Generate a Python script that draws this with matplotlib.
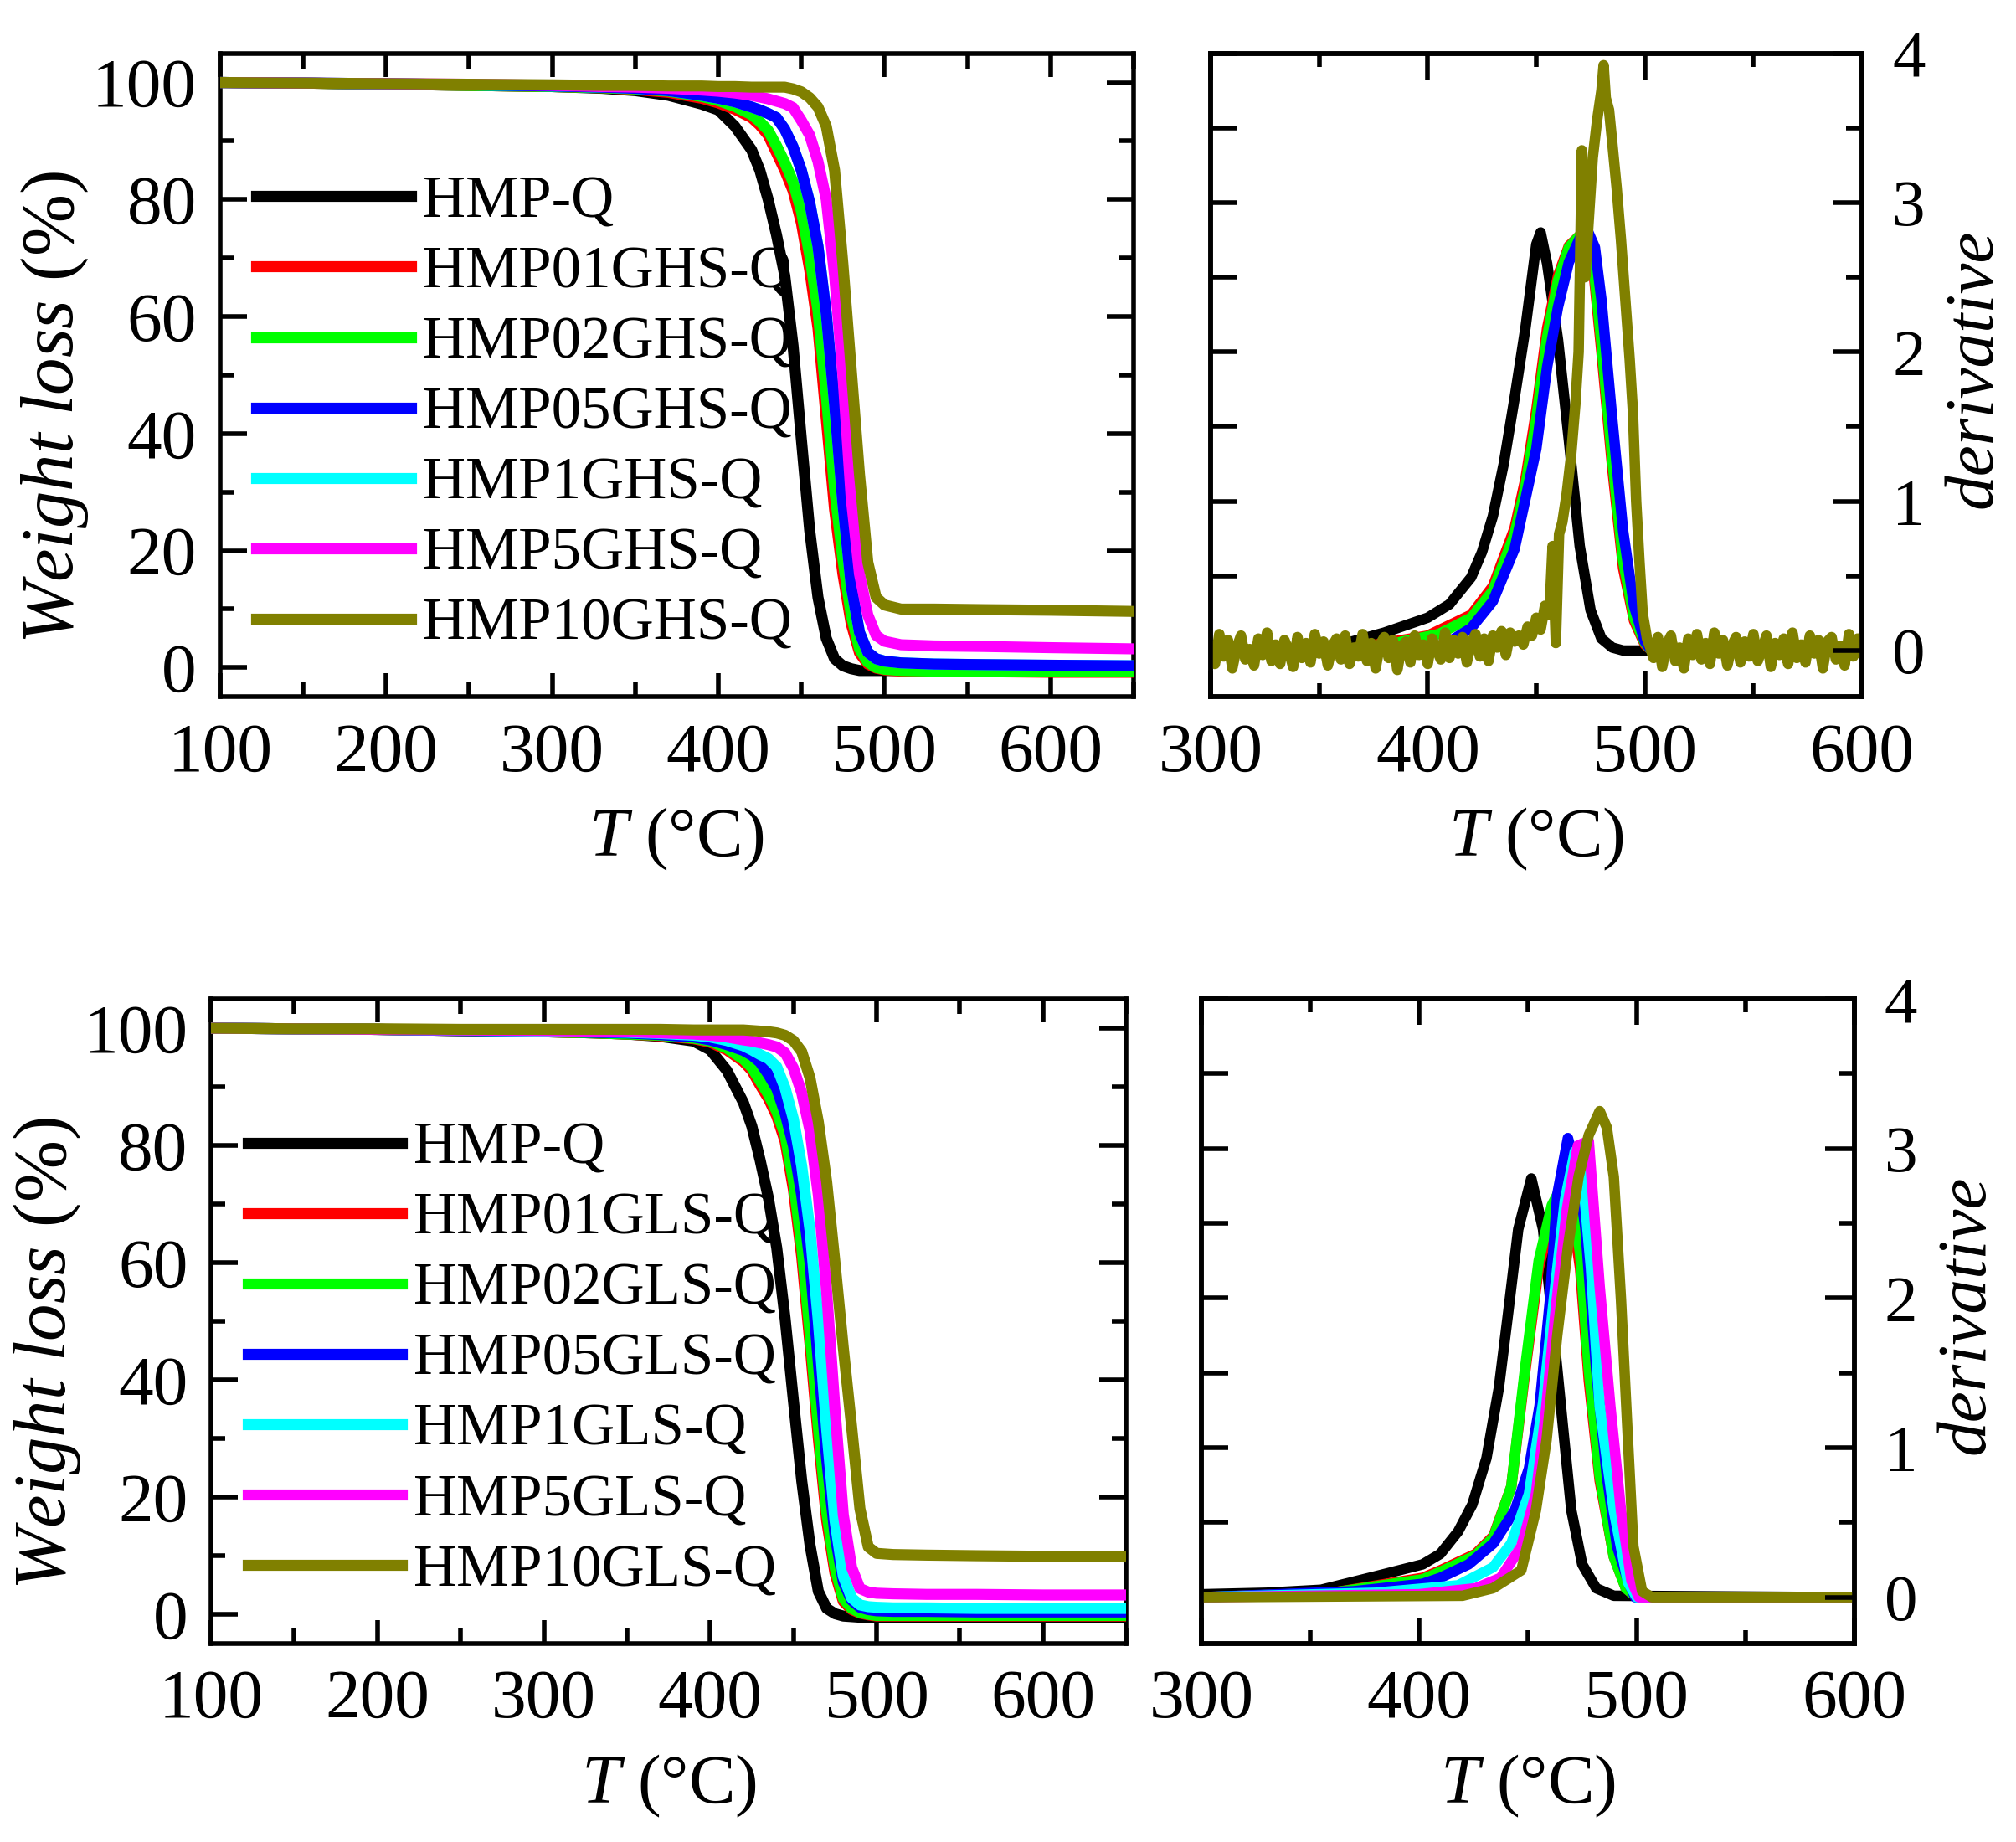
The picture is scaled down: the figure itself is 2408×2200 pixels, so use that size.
import numpy as np
import matplotlib
matplotlib.use('Agg')
import matplotlib.pyplot as plt
from matplotlib.ticker import MultipleLocator

plt.rcParams['font.family'] = ['Liberation Serif', 'DejaVu Serif']
plt.rcParams['mathtext.fontset'] = 'custom'
plt.rcParams['mathtext.rm'] = 'Liberation Serif'
plt.rcParams['mathtext.it'] = 'Liberation Serif:italic'

colors = ['#000000', '#ff0000', '#00ff00', '#0000ff', '#00ffff', '#ff00ff', '#808000']
ghs_labels = ['HMP-Q', 'HMP01GHS-Q', 'HMP02GHS-Q', 'HMP05GHS-Q', 'HMP1GHS-Q', 'HMP5GHS-Q', 'HMP10GHS-Q']
gls_labels = ['HMP-Q', 'HMP01GLS-Q', 'HMP02GLS-Q', 'HMP05GLS-Q', 'HMP1GLS-Q', 'HMP5GLS-Q', 'HMP10GLS-Q']

# TGA temperature grid (degC)
tga_T = [100, 150, 200, 250, 300, 330, 350, 370, 390, 400, 410, 420, 425, 430, 435, 440, 445,
         450, 455, 460, 465, 470, 475, 480, 485, 490, 495, 500, 510, 530, 560, 600, 650]

# weight loss (%) - GHS series
ghs_q = [100, 99.9, 99.7, 99.5, 99.3, 99.0, 98.6, 97.8, 96.3, 95.3, 92.5, 88.5, 85.0, 80.0, 74.0, 67.0, 55.0,
         39.0, 23.5, 12.0, 5.0, 1.5, 0.3, -0.2, -0.5, -0.5, -0.5, -0.5, -0.5, -0.6, -0.6, -0.6, -0.7]
ghs01 = [100, 99.9, 99.7, 99.5, 99.3, 99.1, 98.8, 98.3, 97.3, 96.5, 95.4, 94.0, 92.7, 91.0, 88.0, 85.0, 81.5,
         76.0, 68.0, 58.0, 42.5, 27.0, 16.0, 7.5, 2.5, 0.6, -0.1, -0.4, -0.6, -0.7, -0.7, -0.8, -0.8]
ghs02 = [100, 99.9, 99.7, 99.5, 99.3, 99.1, 98.9, 98.5, 97.6, 96.9, 95.9, 94.5, 93.3, 91.8, 89.2, 86.3, 83.0,
         78.0, 70.5, 61.0, 46.5, 30.5, 18.5, 9.0, 3.2, 0.9, 0.0, -0.3, -0.5, -0.6, -0.6, -0.7, -0.7]
ghs05 = [100, 99.9, 99.8, 99.6, 99.4, 99.2, 99.0, 98.6, 97.8, 97.3, 96.7, 95.8, 95.3, 94.7, 94.0, 92.0, 89.0,
         85.0, 79.5, 72.0, 60.5, 45.0, 28.0, 14.0, 6.0, 2.6, 1.5, 1.1, 0.8, 0.6, 0.5, 0.4, 0.3]
ghs1 = [100, 99.9, 99.8, 99.6, 99.4, 99.2, 99.0, 98.6, 97.8, 97.3, 96.7, 95.8, 95.3, 94.7, 94.0, 92.0, 89.0,
        85.0, 79.5, 72.0, 60.5, 45.0, 28.0, 14.0, 6.0, 2.6, 1.5, 1.1, 0.8, 0.6, 0.5, 0.4, 0.3]
ghs5 = [100, 99.9, 99.8, 99.7, 99.5, 99.3, 99.2, 99.0, 98.7, 98.5, 98.2, 97.8, 97.5, 97.2, 96.8, 96.4, 95.7,
        93.5, 91.0, 86.5, 80.0, 67.0, 50.0, 29.0, 16.0, 9.0, 5.5, 4.5, 3.9, 3.7, 3.6, 3.4, 3.2]
ghs10 = [100, 99.9, 99.8, 99.7, 99.6, 99.5, 99.5, 99.4, 99.4, 99.3, 99.3, 99.2, 99.2, 99.2, 99.2, 99.2, 98.9,
         98.4, 97.4, 95.8, 92.5, 85.0, 69.0, 51.0, 33.0, 18.0, 12.0, 10.7, 10.0, 10.0, 9.9, 9.8, 9.6]

# weight loss (%) - GLS series
gls_q = [100, 99.9, 99.8, 99.6, 99.4, 99.2, 99.0, 98.6, 97.8, 96.3, 92.8, 87.3, 83.3, 77.5, 71.0, 62.5, 50.5,
         36.5, 22.8, 11.8, 3.9, 1.0, 0.1, -0.3, -0.4, -0.5, -0.5, -0.5, -0.5, -0.5, -0.5, -0.5, -0.5]
gls01 = [100, 99.9, 99.8, 99.6, 99.4, 99.2, 99.0, 98.7, 98.2, 97.6, 96.3, 94.3, 92.8, 90.3, 88.0, 85.0, 80.7,
         72.5, 61.0, 46.0, 30.0, 16.0, 7.0, 2.2, 0.8, 0.2, -0.1, -0.3, -0.3, -0.3, -0.3, -0.3, -0.3]
gls02 = [100, 99.9, 99.8, 99.6, 99.4, 99.2, 99.0, 98.8, 98.3, 97.8, 96.6, 94.7, 93.3, 91.0, 88.7, 85.8, 81.8,
         74.0, 62.8, 48.0, 32.0, 17.5, 8.0, 2.7, 1.0, 0.3, 0.0, -0.2, -0.2, -0.2, -0.2, -0.2, -0.2]
gls05 = [100, 99.9, 99.8, 99.6, 99.5, 99.3, 99.2, 98.9, 98.5, 98.0, 97.2, 96.2, 95.4, 94.2, 92.1, 89.7, 85.5,
         80.0, 71.5, 60.0, 43.0, 26.5, 13.5, 5.5, 2.4, 1.2, 0.8, 0.6, 0.5, 0.5, 0.4, 0.4, 0.4]
gls1 = [100, 99.9, 99.8, 99.7, 99.5, 99.4, 99.3, 99.1, 98.8, 98.5, 97.9, 97.0, 96.3, 95.5, 94.8, 93.4, 89.8,
        84.5, 76.5, 65.5, 50.0, 31.6, 16.0, 6.5, 2.8, 1.6, 1.3, 1.2, 1.1, 1.1, 1.0, 1.0, 1.0]
gls5 = [100, 99.9, 99.8, 99.7, 99.6, 99.5, 99.4, 99.2, 99.0, 98.8, 98.5, 98.0, 97.8, 97.5, 97.2, 96.8, 95.8,
        93.2, 89.0, 82.5, 71.5, 55.0, 35.0, 17.0, 8.0, 4.4, 3.8, 3.6, 3.5, 3.4, 3.4, 3.3, 3.3]
gls10 = [100, 99.9, 99.9, 99.8, 99.8, 99.8, 99.8, 99.8, 99.7, 99.7, 99.7, 99.7, 99.6, 99.5, 99.4, 99.2, 98.8,
         97.9, 96.0, 91.5, 84.0, 73.8, 60.0, 45.5, 32.0, 18.0, 11.5, 10.4, 10.2, 10.1, 10.0, 9.9, 9.8]

# derivative curves - GHS (top right)
ghs_q_dT = [340, 350, 365, 380, 390, 400, 410, 420, 425, 430, 435, 440, 445, 450, 452, 455, 460, 465, 470,
            475, 480, 485, 490, 505]
ghs_q_d = [0.0, 0.02, 0.06, 0.12, 0.17, 0.22, 0.31, 0.49, 0.66, 0.9, 1.25, 1.69, 2.16, 2.72, 2.8, 2.59, 2.08,
           1.41, 0.7, 0.27, 0.08, 0.02, 0.0, 0.0]
ghs01_dT = [360, 380, 400, 420, 430, 440, 445, 450, 455, 460, 465, 470, 473, 476, 480, 485, 490, 495, 500, 503]
ghs01_d = [0.0, 0.05, 0.1, 0.24, 0.43, 0.82, 1.15, 1.61, 2.16, 2.51, 2.71, 2.78, 2.78, 2.59, 2.0, 1.22, 0.55,
           0.2, 0.04, 0.0]
ghs02_dT = [365, 385, 405, 420, 430, 440, 445, 450, 455, 460, 465, 470, 473, 476, 480, 485, 490, 495, 500, 503]
ghs02_d = [0.0, 0.05, 0.11, 0.22, 0.4, 0.78, 1.1, 1.55, 2.1, 2.48, 2.7, 2.78, 2.79, 2.63, 2.06, 1.28, 0.6,
           0.22, 0.05, 0.0]
ghs05_dT = [400, 410, 420, 430, 440, 450, 455, 460, 465, 470, 474, 477, 480, 485, 490, 495, 500, 503]
ghs05_d = [0.0, 0.06, 0.15, 0.33, 0.68, 1.35, 1.9, 2.3, 2.6, 2.76, 2.8, 2.7, 2.35, 1.55, 0.8, 0.3, 0.06, 0.0]
ghs10_noise_lo = [0.03, -0.09, 0.11, -0.04, 0.07, -0.12, 0.02, 0.10, -0.06, 0.01,
                  -0.10, 0.08, -0.03, 0.12, -0.07, 0.04, -0.09, 0.07, 0.00, -0.11,
                  0.09, -0.05, 0.05, -0.08, 0.11, -0.02, 0.06, -0.10, 0.03, 0.08,
                  -0.06, 0.10, -0.09, 0.02, -0.04, 0.11, -0.07, 0.05, -0.12, 0.04,
                  0.09, -0.05, 0.07, -0.13, 0.03, 0.06, -0.08, 0.10, -0.03, 0.04,
                  -0.09, 0.08, 0.01, -0.06, 0.12, -0.05, 0.07, -0.02, 0.09, -0.08,
                  0.05, 0.11, -0.04, 0.08, -0.07, 0.10, 0.02, 0.13, -0.03, 0.12, 0.06]
ghs10_peak_T = [442, 444, 446, 448, 450, 452, 454, 456, 457.5, 459, 460.5, 462, 464, 466, 468, 469.5, 471,
                472.5, 474, 476, 478, 480, 481, 482, 483.5, 485, 487, 489, 491, 493, 494.5, 496, 497.5, 499,
                501, 502.5]
ghs10_peak = [0.10, 0.04, 0.16, 0.10, 0.22, 0.14, 0.30, 0.24, 0.70, 0.05, 0.78, 0.86, 1.05, 1.30, 1.65, 2.00,
              3.35, 2.50, 2.85, 3.30, 3.55, 3.75, 3.92, 3.70, 3.62, 3.40, 3.10, 2.75, 2.35, 1.95, 1.60, 1.00,
              0.60, 0.25, 0.08, 0.02]
ghs10_noise_hi = [-0.05, 0.09, -0.11, 0.04, 0.10, -0.07, 0.02, -0.12, 0.08, -0.03,
                  0.11, -0.06, 0.05, -0.09, 0.12, -0.02, 0.07, -0.10, 0.03, 0.09,
                  -0.08, 0.06, -0.04, 0.11, -0.07, 0.01, 0.10, -0.11, 0.05, -0.03,
                  0.08, -0.09, 0.12, -0.05, 0.04, -0.08, 0.10, -0.02, 0.07, -0.12,
                  0.06, 0.09, -0.06, 0.03, -0.10, 0.11, -0.04, 0.08, -0.01]

# derivative curves - GLS (bottom right)
gls_q_dT = [300, 330, 355, 380, 401.7, 409.8, 418, 424.5, 431, 436.7, 440.7, 445.6, 451.6, 457, 462, 466,
            470, 475, 481.4, 489.5, 600]
gls_q_d = [0.02, 0.03, 0.05, 0.14, 0.22, 0.29, 0.44, 0.62, 0.93, 1.4, 1.87, 2.46, 2.8, 2.46, 1.75, 1.16,
           0.58, 0.22, 0.06, 0.01, 0.0]
gls01_dT = [300, 360, 401.7, 409.8, 426, 434.2, 442.4, 448.9, 455, 461, 466, 470, 474, 478, 483, 489.5, 495,
            500, 600]
gls01_d = [0.0, 0.03, 0.13, 0.18, 0.29, 0.41, 0.74, 1.52, 2.2, 2.55, 2.67, 2.6, 2.2, 1.45, 0.78, 0.27, 0.06,
           0.0, 0.0]
gls02_dT = gls01_dT
gls02_d = [0.0, 0.03, 0.12, 0.17, 0.28, 0.40, 0.74, 1.55, 2.25, 2.62, 2.76, 2.7, 2.3, 1.52, 0.81, 0.27, 0.06,
           0.0, 0.0]
gls05_dT = [300, 370, 401.7, 409.8, 422.8, 434.2, 444, 450.5, 455.4, 460.2, 463.5, 468.4, 473.3, 476.5,
            481.4, 486.3, 491, 496, 499.3, 600]
gls05_d = [0.0, 0.04, 0.09, 0.13, 0.22, 0.36, 0.58, 0.86, 1.28, 1.99, 2.69, 3.07, 2.81, 2.46, 1.52, 0.81,
           0.34, 0.11, 0.0, 0.0]
gls1_dT = [300, 380, 418, 434, 442.4, 450.5, 457, 462, 467, 471.6, 475, 479, 483, 489.5, 496, 500, 600]
gls1_d = [0.0, 0.03, 0.08, 0.2, 0.36, 0.69, 1.3, 2.0, 2.65, 2.98, 2.85, 2.2, 1.28, 0.58, 0.1, 0.0, 0.0]
gls5_dT = [300, 400, 426, 437.5, 447, 453.7, 458, 463, 468, 473, 478, 483, 487.9, 492.8, 497.6, 501, 600]
gls5_d = [0.0, 0.02, 0.06, 0.13, 0.34, 0.69, 1.2, 1.95, 2.6, 3.02, 3.05, 2.08, 1.28, 0.58, 0.11, 0.0, 0.0]
gls10_dT = [300, 420, 434, 447, 453.7, 458.6, 463.5, 468.4, 473.3, 478, 483, 486.3, 489.5, 492.8, 496, 498.5,
            502.5, 507, 600]
gls10_d = [0.0, 0.01, 0.06, 0.18, 0.58, 1.05, 1.75, 2.34, 2.81, 3.09, 3.25, 3.14, 2.81, 1.99, 1.05, 0.34,
           0.04, 0.0, 0.0]

ghs10_dT = np.concatenate([np.arange(300, 441, 2), ghs10_peak_T, np.arange(504, 601, 2)])
ghs10_d = np.concatenate([ghs10_noise_lo, ghs10_peak, ghs10_noise_hi])

SPINE_W = 4
TICK_FS = 60


def tga_panel(ax, series, labels, zorders, leg_y, ylab_x):
    for vals, c, lab, z in zip(series, colors, labels, zorders):
        ax.plot(tga_T, vals, color=c, lw=9.5, label=lab, zorder=z)
    ax.set_xlim(100, 650)
    ax.set_ylim(-5, 105)
    ax.xaxis.set_major_locator(MultipleLocator(100))
    ax.xaxis.set_minor_locator(MultipleLocator(50))
    ax.yaxis.set_major_locator(MultipleLocator(20))
    ax.yaxis.set_minor_locator(MultipleLocator(10))
    ax.tick_params(which='both', direction='in', top=True, right=True, width=SPINE_W)
    ax.tick_params(axis='y', which='major', length=23, labelsize=TICK_FS, pad=20)
    ax.tick_params(axis='y', which='minor', length=12)
    ax.tick_params(axis='x', which='major', length=20, labelsize=TICK_FS, pad=22)
    ax.tick_params(axis='x', which='minor', length=13)
    for s in ax.spines.values():
        s.set_linewidth(SPINE_W)
    ax.set_ylabel(r'$Weight\ loss$ (%)', fontsize=64)
    ax.yaxis.set_label_coords(ylab_x, 0.45)
    ax.set_xlabel(r'$T$ (°C)', fontsize=60)
    ax.xaxis.set_label_coords(0.5, -0.17)
    ax.legend(loc='center left', bbox_to_anchor=(0.04, leg_y), frameon=False, fontsize=51,
              handlelength=2.6, handletextpad=0.2, labelspacing=0.27, borderpad=0, borderaxespad=0)


def dtg_panel(ax, curves, zorders):
    for (t, v), c, z in zip(curves, colors, zorders):
        if t is None:
            continue
        ax.plot(t, v, color=c, lw=9, zorder=z)
    ax.set_xlim(300, 600)
    ax.set_ylim(-0.31, 4)
    ax.xaxis.set_major_locator(MultipleLocator(100))
    ax.xaxis.set_minor_locator(MultipleLocator(50))
    ax.yaxis.set_major_locator(MultipleLocator(0.5))
    ax.tick_params(which='both', direction='in', top=True, width=SPINE_W)
    ax.tick_params(axis='x', which='major', length=22, labelsize=TICK_FS, pad=22)
    ax.tick_params(axis='x', which='minor', length=11.5)
    ax.tick_params(axis='y', which='major', left=True, right=False, labelleft=False, length=23)
    for s in ax.spines.values():
        s.set_linewidth(SPINE_W)
    ax.set_xlabel(r'$T$ (°C)', fontsize=60)
    ax.xaxis.set_label_coords(0.5, -0.17)
    tw = ax.twinx()
    tw.set_ylim(-0.31, 4)
    tw.yaxis.set_major_locator(MultipleLocator(1))
    tw.yaxis.set_minor_locator(MultipleLocator(0.5))
    tw.tick_params(which='both', direction='in', width=SPINE_W)
    tw.tick_params(which='major', length=25, labelsize=57, pad=26)
    tw.tick_params(which='minor', length=14)
    for s in tw.spines.values():
        s.set_linewidth(SPINE_W)
    tw.set_ylabel('derivative', fontsize=60, fontstyle='italic')
    tw.yaxis.set_label_coords(1.124, 0.51)


fig = plt.figure(figsize=(24.08, 22), dpi=100)
ax_tl = fig.add_axes([0.1091, 0.6217, 0.4532, 0.3494])
ax_tr = fig.add_axes([0.6005, 0.6217, 0.3231, 0.3494])
ax_bl = fig.add_axes([0.1047, 0.1077, 0.4539, 0.3500])
ax_br = fig.add_axes([0.5959, 0.1077, 0.3239, 0.3500])

tga_panel(ax_tl, [ghs_q, ghs01, ghs02, ghs05, ghs1, ghs5, ghs10], ghs_labels,
          [2, 3, 4, 6, 5, 7, 8], 0.44, -0.142)
tga_panel(ax_bl, [gls_q, gls01, gls02, gls05, gls1, gls5, gls10], gls_labels,
          [2, 3, 4, 5, 6, 7, 8], 0.44, -0.140)

dtg_panel(ax_tr, [(ghs_q_dT, ghs_q_d), (ghs01_dT, ghs01_d), (ghs02_dT, ghs02_d), (ghs05_dT, ghs05_d),
                  (None, None), (None, None), (ghs10_dT, ghs10_d)], [2, 3, 4, 5, 6, 7, 8])
dtg_panel(ax_br, [(gls_q_dT, gls_q_d), (gls01_dT, gls01_d), (gls02_dT, gls02_d), (gls05_dT, gls05_d),
                  (gls1_dT, gls1_d), (gls5_dT, gls5_d), (gls10_dT, gls10_d)], [2, 3, 4, 5, 6, 7, 8])

fig.savefig('out.png', dpi=100)
